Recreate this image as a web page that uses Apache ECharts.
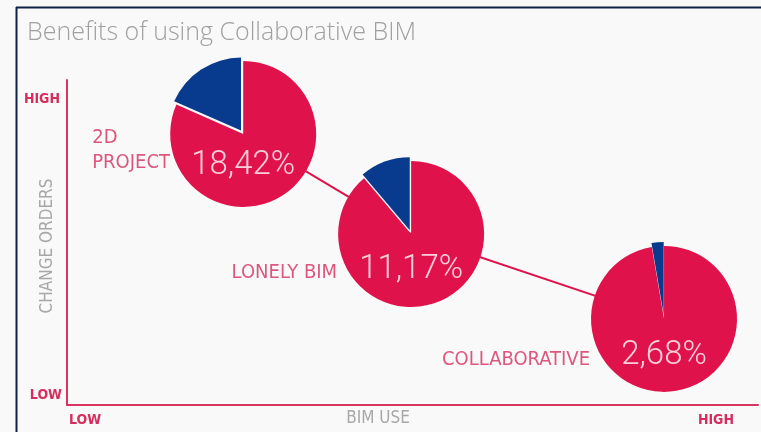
<!DOCTYPE html>
<html>
<head>
<meta charset="utf-8">
<title>Benefits of using Collaborative BIM</title>
<script src="https://cdn.jsdelivr.net/npm/echarts@6/dist/echarts.min.js"></script>
<style>
  html, body { margin: 0; padding: 0; background: #f9f9f9; }
  #main { width: 761px; height: 432px; }
</style>
</head>
<body>
<div id="main"></div>
<script>
// Project groups and the share of change orders in each
const groups = ['2D\nPROJECT', 'LONELY BIM', 'COLLABORATIVE'];
const changeOrderPct = [18.42, 11.17, 2.68];
// Where each group sits: BIM use (x) and change-order level (y), 0 = low, 100 = high
const bimUse = [25.5, 49.8, 86.4];
const changeLevel = [83.4, 52.6, 26.5];
// Axis end labels
const axisEnds = ['LOW', 'HIGH'];

const RED = '#e0124b';
const BLUE = '#083a8e';
const TEXT_RED = '#d62d5c';
const GREY = '#a8a8a8';
const NARROW = "'DejaVu Sans Condensed', 'DejaVu Sans', sans-serif";
const LIGHT = "Roboto, 'Open Sans', sans-serif";

const fmtPct = v => v.toFixed(2).replace('.', ',') + '%';

// label placement relative to each pie centre
const nameLabelLayout = [
  { align: 'left',  offset: [-151, 16] },
  { align: 'right', offset: [-74, 39] },
  { align: 'right', offset: [-74, 41] }
];
const pctLabelOffset = [[0, 32], [0, 36], [0, 37]];

const chart = echarts.init(document.getElementById('main'), null, { renderer: 'canvas' });

const points = bimUse.map((x, i) => [x, changeLevel[i]]);

const capFont = "bold 14px " + NARROW;

const baseOption = {
  animation: false,
  backgroundColor: '#f9f9f9',
  title: {
    text: 'Benefits of using Collaborative BIM',
    left: 22, top: 15,
    textStyle: { fontFamily: "'Open Sans', sans-serif", fontWeight: 300, fontSize: 25, color: '#a0a0a0' }
  },
  grid: { left: 67, right: 3, top: 80, bottom: 27 },
  xAxis: {
    type: 'value', min: 0, max: 100,
    axisLine: { show: true, onZero: false, lineStyle: { color: '#da3462', width: 2 } },
    axisTick: { show: false }, axisLabel: { show: false }, splitLine: { show: false }
  },
  yAxis: {
    type: 'value', min: 0, max: 100,
    axisLine: { show: true, onZero: false, lineStyle: { color: '#da3462', width: 2 } },
    axisTick: { show: false }, axisLabel: { show: false }, splitLine: { show: false }
  },
  graphic: [
    // frame
    { type: 'line', shape: { x1: 16, y1: 7.5, x2: 761, y2: 7.5 }, style: { stroke: '#0d2447', lineWidth: 2 }, silent: true },
    { type: 'line', shape: { x1: 16.5, y1: 7, x2: 16.5, y2: 432 }, style: { stroke: '#0d2447', lineWidth: 2 }, silent: true },
    // axis captions
    { type: 'text', x: 60, y: 99, style: { text: axisEnds[1], font: capFont, fill: TEXT_RED, align: 'right', verticalAlign: 'middle' } },
    { type: 'text', x: 62, y: 395, style: { text: axisEnds[0], font: capFont, fill: TEXT_RED, align: 'right', verticalAlign: 'middle' } },
    { type: 'text', x: 69, y: 420, style: { text: axisEnds[0], font: capFont, fill: TEXT_RED, align: 'left', verticalAlign: 'middle' } },
    { type: 'text', x: 734, y: 420, style: { text: axisEnds[1], font: capFont, fill: TEXT_RED, align: 'right', verticalAlign: 'middle' } },
    { type: 'text', x: 378, y: 419, style: { text: 'BIM USE', font: "17px " + NARROW, fill: GREY, align: 'center', verticalAlign: 'middle' } },
    { type: 'text', x: 48, y: 246, rotation: Math.PI / 2,
      style: { text: 'CHANGE ORDERS', font: "17px " + NARROW, fill: GREY, align: 'center', verticalAlign: 'middle' } }
  ],
  series: [
    {
      type: 'line', z: 1, data: points, symbol: 'none',
      lineStyle: { color: RED, width: 2 }, silent: true
    }
  ]
};

chart.setOption(baseOption);

// pie centres come from the cartesian scales
const centers = points.map(p => chart.convertToPixel({ gridIndex: 0 }, p));

const pies = changeOrderPct.map((pct, i) => ({
  type: 'pie',
  z: 3,
  center: centers[i],
  radius: 73,
  startAngle: 90,
  clockwise: false,
  selectedMode: 'single',
  selectedOffset: 4,
  silent: true,
  label: { show: false },
  labelLine: { show: false },
  emphasis: { disabled: true },
  data: [
    { value: pct, name: 'Change orders', selected: true, itemStyle: { color: BLUE } },
    { value: 100 - pct, name: 'Other', itemStyle: { color: RED } }
  ]
}));

const pctLabels = {
  type: 'scatter', z: 6, symbolSize: 0, silent: true,
  data: points.map((p, i) => ({
    value: p,
    label: {
      show: true, position: 'inside', offset: pctLabelOffset[i],
      formatter: fmtPct(changeOrderPct[i]),
      fontFamily: LIGHT, fontSize: 33, fontWeight: 300, color: '#ffffff'
    }
  }))
};

const nameLabels = {
  type: 'scatter', z: 6, symbolSize: 0, silent: true,
  data: points.map((p, i) => ({
    value: p,
    label: {
      show: true, position: 'inside',
      align: nameLabelLayout[i].align, verticalAlign: 'middle',
      offset: nameLabelLayout[i].offset,
      formatter: groups[i],
      fontFamily: NARROW, fontSize: 20, lineHeight: 25, color: TEXT_RED
    }
  }))
};

chart.setOption({ series: baseOption.series.concat(pies, [pctLabels, nameLabels]) });
</script>
</body>
</html>
